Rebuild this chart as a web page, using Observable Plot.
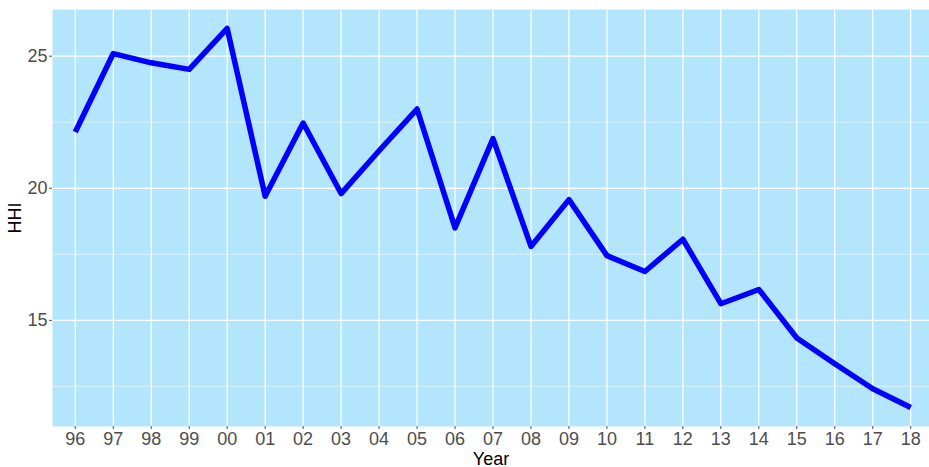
<!DOCTYPE html>
<html>
<head>
<meta charset="utf-8">
<script src="https://cdn.jsdelivr.net/npm/d3@7"></script>
<script src="https://cdn.jsdelivr.net/npm/@observablehq/plot@0.6"></script>
<style>
  html, body { margin: 0; padding: 0; background: #fff; overflow: hidden; }
  #chart svg { display: block; }
  g[aria-label="x-axis label"] text, g[aria-label="y-axis label"] text { fill: #000; }
</style>
</head>
<body>
<div id="chart"></div>
<script>
const years = ["96","97","98","99","00","01","02","03","04","05","06","07","08","09","10","11","12","13","14","15","16","17","18"];
const hhi = [22.13, 25.1, 24.75, 24.5, 26.05, 19.7, 22.47, 19.8, 21.42, 23.0, 18.5, 21.88, 17.8, 19.57, 17.45, 16.85, 18.07, 15.63, 16.17, 14.33, 13.36, 12.41, 11.7];
const yMajor = [15, 20, 25];
const yMinor = [12.5, 17.5, 22.5];

const data = years.map((y, i) => ({year: y, hhi: hhi[i]}));
const lo = d3.min(hhi), hi = d3.max(hhi), pad = (hi - lo) * 0.05;

const chart = Plot.plot({
  width: 929,
  height: 467,
  marginLeft: 52,
  marginRight: 0,
  marginTop: 9,
  marginBottom: 41,
  style: {fontFamily: "Arial, 'Liberation Sans', sans-serif", fontSize: "18px", background: "#fff"},
  x: {type: "point", domain: years, padding: 0.6, round: false, range: [52, 933]},
  y: {domain: [lo - pad, hi + pad]},
  marks: [
    Plot.frame({fill: "#b3e6fc", stroke: null}),
    Plot.ruleY(yMinor, {stroke: "#fff", strokeWidth: 0.6, strokeOpacity: 0.8}),
    Plot.ruleY(yMajor, {stroke: "#fff", strokeWidth: 1.2}),
    Plot.ruleX(years, {stroke: "#fff", strokeWidth: 1.2}),
    Plot.line(data, {x: "year", y: "hhi", stroke: "#0000ff", strokeWidth: 5.5, strokeLinejoin: "round", strokeLinecap: "butt"}),
    Plot.axisX({tickSize: 3, tickPadding: 3, fontSize: 18, color: "#4d4d4d", label: "Year", labelAnchor: "center", labelOffset: 38, labelArrow: "none"}),
    Plot.axisY(yMajor, {tickSize: 3, tickPadding: 2, fontSize: 18, color: "#4d4d4d", label: "HHI", labelAnchor: "center", labelOffset: 44, labelArrow: "none"})
  ]
});
document.getElementById("chart").appendChild(chart);
</script>
</body>
</html>
